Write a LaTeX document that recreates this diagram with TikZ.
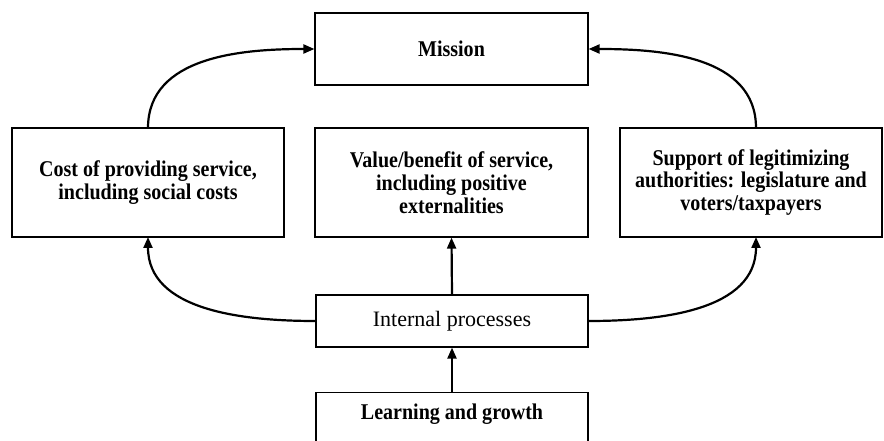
\documentclass[tikz,border=0pt]{standalone}
\usepackage{fontspec}
\setmainfont{Liberation Serif}[BoldFeatures={FakeStretch=0.89}]
\usetikzlibrary{arrows.meta}
\begin{document}
\begin{tikzpicture}[x=1bp,y=-1bp,
  box/.style={draw=black, line width=1.2bp, rectangle, inner sep=0pt, align=center,
    font=\fontsize{22.5bp}{22.8bp}\selectfont\bfseries},
  conn/.style={line width=2.2bp, -{Triangle[length=11bp,width=9bp]}}]
\useasboundingbox (0,0) rectangle (884,441);
\clip (0,0) rectangle (884,441);
\node[box, minimum width=273bp, minimum height=72bp] (mission) at (451.5,49) {Mission};
\node[box, minimum width=272bp, minimum height=109bp] (cost) at (148,182.5) {Cost of providing service,\\including social costs};
\node[box, minimum width=273bp, minimum height=109bp] (value) at (451.5,182.5) {Value/benefit of service,\\including positive\\externalities};
\node[box, minimum width=262bp, minimum height=109bp] (support) at (751,182.5) {Support of legitimizing\\authorities: legislature and\\voters/taxpayers};
\node[box, minimum width=272bp, minimum height=52bp, font=\fontsize{22bp}{22.8bp}\selectfont] (internal) at (452,321) {Internal processes};
\node[box, minimum width=272bp, minimum height=80bp, anchor=north] (learning) at (452,392) {};
\node[font=\fontsize{22.5bp}{22.8bp}\selectfont\bfseries, inner sep=0pt] (learningtext) at (452,414) {Learning and growth};
\coordinate (costtop) at (148,128);
\coordinate (supporttop) at (756,128);
\coordinate (costbot) at (148,237);
\coordinate (supportbot) at (756,237);
\draw[conn] (costtop) to[out=90,in=180] (mission.west);
\draw[conn] (supporttop) to[out=90,in=0] (mission.east);
\draw[conn] (internal.west) to[out=180,in=-90] (costbot);
\draw[conn] (internal.east) to[out=0,in=-90] (supportbot);
\draw[conn] (internal.north) -- (value.south);
\draw[conn] (learning.north) -- (internal.south);
\end{tikzpicture}
\end{document}
